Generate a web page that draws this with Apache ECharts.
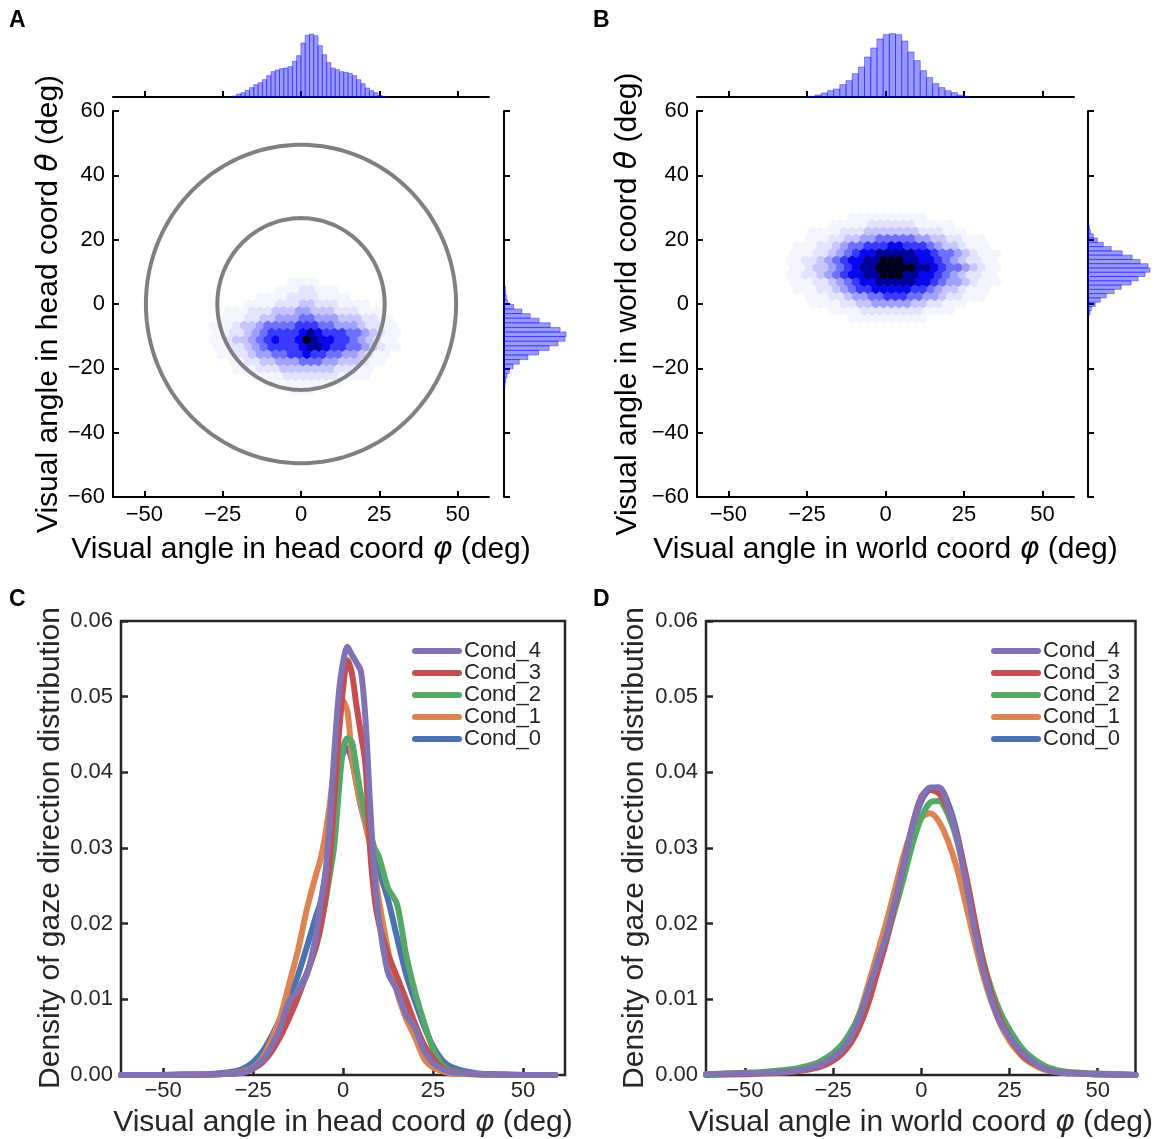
<!DOCTYPE html>
<html><head><meta charset="utf-8">
<script src="https://cdn.jsdelivr.net/npm/echarts@6/dist/echarts.min.js"></script>
<style>html,body{margin:0;padding:0;background:#fff}#c{width:1155px;height:1139px}</style>
</head><body><div id="c"></div>
<script>
// ---------------- DATA ----------------
const tickVals = [-50, -25, 0, 25, 50];

// Panel A rings (center x, center y, radius in deg)
const ringsA = [[0, 0, 26.7], [0, 0, 49.5]];

// Hexbin density levels (0 = empty, 1..9 = light -> dark), rows from top to bottom
const HEX_DX = 2.5, HEX_DY = 2.25;
const hexA_x0 = -27.5, hexA_yTop = 6.75;
const hexA_levels = [
  "000000000011110000000000",
  "000000001112211100000000",
  "000000111122221111000000",
  "000011112223322211110000",
  "001112223334433322211100",
  "011122334445544433322110",
  "111233455556665544432211",
  "112234566667876665543211",
  "112334567667987766543211",
  "112234566667887665543211",
  "011223445566766554432110",
  "001122334445554433321100",
  "000111222333333322211000",
  "000001111222222211110000",
  "000000011111111110000000",
  "000000000011100000000000"
];
const hexB_x0 = -30, hexB_yTop = 27;
const hexB_levels = [
  "000000001111111111000000000",
  "000001111122222211111000000",
  "000111122233333332221110000",
  "001112233445555544332211100",
  "011122345566677666543321110",
  "111223456778888877655432111",
  "112234567788999887765432211",
  "112334567889999988765543211",
  "112234567788999887765432211",
  "111223456778888877654432111",
  "011122345667777766543321110",
  "001112234455666554432211100",
  "000111122334444433221110000",
  "000001111222222221111000000",
  "000000001111111111000000000"
];

// Marginal histograms (bin start, bin width, counts)
const histA_top_start = -21.9, histA_top_width = 1.367;
const histA_top_counts = [3, 9, 13, 20, 28, 37, 43, 52, 64, 76, 81, 85, 87, 91, 107, 124, 162, 185, 189, 184, 154, 127, 103, 87, 82, 76, 74, 71, 64, 52, 40, 27, 19, 13, 5, 2];
const histA_right_start = 5.6, histA_right_width = 1.43; // bins going downward
const histA_right_counts = [4, 5, 7, 11, 29, 54, 79, 106, 139, 169, 187, 184, 163, 136, 104, 72, 46, 27, 16, 9, 5, 3];
const histB_top_start = -24.4, histB_top_width = 1.97;
const histB_top_counts = [2, 6, 12, 19, 24, 37, 49, 70, 90, 120, 147, 174, 187, 190, 187, 168, 135, 109, 79, 58, 40, 28, 19, 13, 6, 2];
const histB_right_start = 24.5, histB_right_width = 1.33; // bins going downward
const histB_right_counts = [4, 7, 16, 28, 46, 70, 103, 133, 157, 181, 187, 172, 151, 130, 100, 79, 55, 37, 22, 10, 6];

// Panel C: KDE in head coords (density x 1e-4)
const kdeC_x = [-61.7, -50, -40, -35, -30, -27.5, -25, -22.5, -20, -17.5, -15, -12.5, -10, -7.5, -6.25, -5, -3.75, -2.5, -1.25, 0, 1.25, 2.5, 3.75, 5, 6.25, 7.5, 8.75, 10, 12.5, 15, 17.5, 20, 22.5, 25, 27.5, 30, 35, 40, 50, 59];
const kdeC_cond0 = [0, 0, 1, 2, 5, 9, 17, 30, 50, 74, 100, 132, 170, 210, 228, 262, 300, 350, 400, 425, 432, 415, 385, 355, 335, 310, 290, 270, 232, 182, 134, 98, 65, 38, 20, 11, 4, 1, 0, 0];
const kdeC_cond1 = [0, 0, 1, 1, 3, 5, 10, 22, 45, 75, 120, 165, 220, 265, 285, 315, 355, 405, 450, 495, 480, 420, 385, 355, 330, 305, 270, 230, 165, 110, 75, 50, 22, 10, 5, 2, 1, 0, 0, 0];
const kdeC_cond2 = [0, 0, 0, 1, 2, 4, 9, 18, 35, 57, 85, 113, 135, 170, 195, 226, 262, 300, 370, 430, 445, 440, 405, 370, 340, 320, 300, 288, 247, 226, 160, 110, 70, 35, 14, 6, 2, 1, 0, 0];
const kdeC_cond3 = [0, 0, 0, 1, 2, 4, 8, 16, 30, 50, 75, 103, 135, 170, 195, 230, 280, 360, 445, 510, 548, 530, 488, 450, 410, 300, 235, 200, 160, 130, 100, 68, 40, 22, 10, 5, 2, 1, 0, 0];
const kdeC_cond4 = [0, 0, 1, 1, 2, 3, 9, 19, 37, 62, 97, 112, 133, 185, 225, 262, 330, 420, 500, 545, 566, 555, 545, 533, 470, 360, 265, 205, 135, 112, 80, 62, 33, 16, 8, 4, 2, 1, 0, 0];

// Panel D: KDE in world coords (density x 1e-4)
const kdeD_x = [-61, -50, -45, -40, -35, -30, -27.5, -25, -22.5, -20, -17.5, -15, -12.5, -10, -7.5, -5, -2.5, 0, 2.5, 5, 7.5, 10, 12.5, 15, 17.5, 20, 22.5, 25, 27.5, 30, 35, 40, 45, 50, 60.7];
const kdeD_cond0 = [1, 2, 3, 4, 6, 11, 16, 23, 33, 50, 75, 110, 146, 182, 228, 275, 326, 362, 378, 380, 360, 322, 262, 198, 142, 100, 71, 50, 34, 22, 9, 4, 2, 1, 0];
const kdeD_cond1 = [1, 2, 3, 4, 6, 11, 16, 24, 36, 55, 82, 120, 160, 200, 245, 290, 325, 340, 346, 335, 310, 275, 228, 178, 132, 95, 66, 45, 30, 19, 7, 3, 2, 1, 0];
const kdeD_cond2 = [1, 3, 4, 6, 9, 15, 21, 29, 40, 57, 80, 112, 145, 178, 218, 260, 305, 340, 360, 362, 345, 312, 262, 205, 152, 112, 82, 60, 42, 28, 12, 5, 3, 2, 0];
const kdeD_cond3 = [0, 1, 2, 3, 5, 9, 13, 19, 28, 42, 64, 95, 135, 175, 225, 278, 330, 368, 377, 372, 352, 318, 268, 208, 150, 105, 72, 50, 33, 21, 8, 3, 2, 1, 0];
const kdeD_cond4 = [1, 2, 3, 4, 6, 11, 16, 23, 33, 50, 75, 112, 148, 183, 230, 278, 330, 365, 380, 380, 355, 316, 258, 195, 140, 98, 68, 50, 35, 23, 8, 3, 2, 1, 0];

const condNames = ['Cond_0', 'Cond_1', 'Cond_2', 'Cond_3', 'Cond_4'];
const condColors = ['#4c72b0', '#dd8452', '#55a868', '#c44e52', '#8172b3'];

// ---------------- BUILD ----------------
const FONT = 'Liberation Sans';
const hexPalette = ['#ffffff', '#f5f5ff', '#e4e4ff', '#c6c6ff', '#a0a0ff', '#7070ff', '#3a3aff', '#0808ee', '#00009a', '#00001c'];
const hexPath = 'path://M0,-1 L0.866,-0.5 L0.866,0.5 L0,1 L-0.866,0.5 L-0.866,-0.5 Z';
const minus = v => String(v).replace('-', '\u2212');

function hexData(levels, x0, yTop) {
  const out = [];
  levels.forEach((row, j) => {
    for (let i = 0; i < row.length; i++) {
      const v = +row[i];
      if (v > 0) out.push([x0 + i * HEX_DX + (j % 2 ? HEX_DX / 4 : -HEX_DX / 4), yTop - j * HEX_DY, v]);
    }
  });
  return out;
}
function histH(start, w, counts) { return counts.map((c, i) => [start + i * w, start + (i + 1) * w, c]); }
function histV(start, w, counts) { return counts.map((c, i) => [start - i * w, start - (i + 1) * w, c]); }
function kde(xs, ys) { return xs.map((x, i) => [x, ys[i] / 10000]); }

const histStyle = { fill: 'rgba(0,0,255,0.4)', stroke: 'rgba(0,0,255,0.4)', lineWidth: 1 };
function renderHistH(params, api) {
  const p0 = api.coord([api.value(0), 0]);
  const p1 = api.coord([api.value(1), api.value(2)]);
  return { type: 'rect', shape: { x: p0[0], y: p1[1], width: p1[0] - p0[0], height: p0[1] - p1[1] }, style: histStyle };
}
function renderHistV(params, api) {
  const p0 = api.coord([0, api.value(0)]);
  const p1 = api.coord([api.value(2), api.value(1)]);
  return { type: 'rect', shape: { x: p0[0], y: p0[1], width: p1[0] - p0[0], height: p1[1] - p0[1] }, style: histStyle };
}
function renderRing(params, api) {
  const cx = api.value(0), cy = api.value(1), r = api.value(2);
  const pts = [];
  for (let k = 0; k <= 180; k++) {
    const t = k / 180 * Math.PI * 2;
    pts.push(api.coord([cx + r * Math.cos(t), cy + r * Math.sin(t)]));
  }
  return { type: 'polyline', shape: { points: pts }, style: { fill: 'none', stroke: '#808080', lineWidth: 4 } };
}

const blk = '#000', dk = '#262626';
const TITLE = 30, TICK = 22;
function titleStyle(col) {
  return { fontSize: TITLE, color: col, fontFamily: FONT, rich: { m: { fontSize: TITLE, color: col, fontStyle: 'italic', fontFamily: 'DejaVu Sans' } } };
}
function mainX(grid, name) {
  return {
    type: 'value', gridIndex: grid, min: -60, max: 60,
    axisLine: { show: true, onZero: false, lineStyle: { color: blk, width: 2 } },
    axisTick: { show: true, inside: true, length: 6, customValues: tickVals, lineStyle: { color: blk, width: 2 } },
    axisLabel: { show: true, customValues: tickVals, formatter: minus, fontSize: TICK, color: blk, fontFamily: FONT, margin: 7 },
    splitLine: { show: false },
    name: name, nameLocation: 'middle', nameGap: 38, nameTextStyle: titleStyle(blk)
  };
}
function mainY(grid, name, gap) {
  return {
    type: 'value', gridIndex: grid, min: -60, max: 60, interval: 20,
    axisLine: { show: true, onZero: false, lineStyle: { color: blk, width: 2 } },
    axisTick: { show: true, inside: true, length: 6, lineStyle: { color: blk, width: 2 } },
    axisLabel: { show: true, formatter: minus, fontSize: TICK, color: blk, fontFamily: FONT, margin: 8 },
    splitLine: { show: false },
    name: name, nameLocation: 'middle', nameGap: gap, nameTextStyle: titleStyle(blk)
  };
}
function margX(grid) {
  return {
    type: 'value', gridIndex: grid, min: -60, max: 60,
    axisLine: { show: true, onZero: false, lineStyle: { color: blk, width: 2 } },
    axisTick: { show: true, inside: true, length: 6, customValues: tickVals, lineStyle: { color: blk, width: 2 } },
    axisLabel: { show: false }, splitLine: { show: false }
  };
}
function margY(grid) {
  return {
    type: 'value', gridIndex: grid, min: -60, max: 60, interval: 20, position: 'left',
    axisLine: { show: true, onZero: false, lineStyle: { color: blk, width: 2 } },
    axisTick: { show: true, inside: true, length: 6, lineStyle: { color: blk, width: 2 } },
    axisLabel: { show: false }, splitLine: { show: false }
  };
}
function hiddenAxis(grid, max) { return { type: 'value', gridIndex: grid, min: 0, max: max, show: false }; }
function kdeX(grid, min, max, name) {
  return {
    type: 'value', gridIndex: grid, min: min, max: max,
    axisLine: { show: false, onZero: false },
    axisTick: { show: true, inside: true, length: 7, customValues: tickVals, lineStyle: { color: dk, width: 2.5 } },
    axisLabel: { show: true, customValues: tickVals, formatter: minus, fontSize: TICK, color: dk, fontFamily: FONT, margin: 5 },
    splitLine: { show: false },
    name: name, nameLocation: 'middle', nameGap: 33, nameTextStyle: titleStyle(dk)
  };
}
function kdeY(grid, gap) {
  return {
    type: 'value', gridIndex: grid, min: 0, max: 0.06, interval: 0.01,
    axisLine: { show: false, onZero: false },
    axisTick: { show: true, inside: true, length: 7, lineStyle: { color: dk, width: 2.5 } },
    axisLabel: { show: true, formatter: v => v.toFixed(2), fontSize: TICK, color: dk, fontFamily: FONT, margin: 8 },
    splitLine: { show: false },
    name: 'Density of gaze direction distribution', nameLocation: 'middle', nameGap: gap,
    nameTextStyle: { fontSize: TITLE, color: dk, fontFamily: FONT }
  };
}

const series = [];
// A
series.push({ type: 'scatter', xAxisIndex: 0, yAxisIndex: 0, data: hexData(hexA_levels, hexA_x0, hexA_yTop), symbol: hexPath, symbolSize: [8.4, 10.3], silent: true, z: 2,
  itemStyle: { opacity: 1, color: p => hexPalette[p.value[2]] } });
series.push({ type: 'custom', xAxisIndex: 0, yAxisIndex: 0, data: ringsA, renderItem: renderRing, silent: true, z: 5, encode: { x: 0, y: 1 } });
series.push({ type: 'custom', xAxisIndex: 1, yAxisIndex: 1, data: histH(histA_top_start, histA_top_width, histA_top_counts), renderItem: renderHistH, silent: true, encode: { x: [0, 1], y: 2 } });
series.push({ type: 'custom', xAxisIndex: 2, yAxisIndex: 2, data: histV(histA_right_start, histA_right_width, histA_right_counts), renderItem: renderHistV, silent: true, encode: { y: [0, 1], x: 2 } });
// B
series.push({ type: 'scatter', xAxisIndex: 3, yAxisIndex: 3, data: hexData(hexB_levels, hexB_x0, hexB_yTop), symbol: hexPath, symbolSize: [8.4, 10.3], silent: true, z: 2,
  itemStyle: { opacity: 1, color: p => hexPalette[p.value[2]] } });
series.push({ type: 'custom', xAxisIndex: 4, yAxisIndex: 4, data: histH(histB_top_start, histB_top_width, histB_top_counts), renderItem: renderHistH, silent: true, encode: { x: [0, 1], y: 2 } });
series.push({ type: 'custom', xAxisIndex: 5, yAxisIndex: 5, data: histV(histB_right_start, histB_right_width, histB_right_counts), renderItem: renderHistV, silent: true, encode: { y: [0, 1], x: 2 } });
// C & D
const kdeC = [kdeC_cond0, kdeC_cond1, kdeC_cond2, kdeC_cond3, kdeC_cond4];
const kdeD = [kdeD_cond0, kdeD_cond1, kdeD_cond2, kdeD_cond3, kdeD_cond4];
[[6, kdeC_x, kdeC], [7, kdeD_x, kdeD]].forEach(([ax, xs, sets]) => {
  sets.forEach((ys, k) => {
    series.push({ type: 'line', name: condNames[k], xAxisIndex: ax, yAxisIndex: ax, data: kde(xs, ys), smooth: 0.3,
      showSymbol: false, symbol: 'none', silent: true, z: 3 + k,
      lineStyle: { color: condColors[k], width: 6, cap: 'round', join: 'round' }, itemStyle: { color: condColors[k] } });
  });
});

const legendIcon = 'path://M3,0 L47,0 A3,3 0 0 1 47,6 L3,6 A3,3 0 0 1 3,0 Z';
function legend(left) {
  return { data: ['Cond_4', 'Cond_3', 'Cond_2', 'Cond_1', 'Cond_0'], orient: 'vertical', left: left, top: 640, padding: 0,
    itemWidth: 50, itemHeight: 6, itemGap: 0, icon: legendIcon, selectedMode: false,
    textStyle: { fontSize: 22, color: dk, fontFamily: FONT, lineHeight: 22, padding: [0, 0, 0, -3] } };
}

const option = {
  animation: false,
  textStyle: { fontFamily: FONT },
  grid: [
    { left: 113, top: 111, width: 376, height: 386 },
    { left: 113, top: 20, width: 376, height: 77 },
    { left: 504, top: 111, width: 70, height: 386 },
    { left: 697, top: 111, width: 377, height: 386 },
    { left: 697, top: 20, width: 377, height: 77 },
    { left: 1088, top: 111, width: 66, height: 386 },
    { left: 121, top: 621, width: 444, height: 455, show: true, borderColor: dk, borderWidth: 2.5, backgroundColor: 'transparent' },
    { left: 706, top: 621, width: 435, height: 455, show: true, borderColor: dk, borderWidth: 2.5, backgroundColor: 'transparent' }
  ],
  xAxis: [
    mainX(0, 'Visual angle in head coord {m|φ} (deg)'),
    margX(1),
    hiddenAxis(2, 211),
    mainX(3, 'Visual angle in world coord {m|φ} (deg)'),
    margX(4),
    hiddenAxis(5, 199),
    kdeX(6, -61.7, 61.7, 'Visual angle in head coord {m|φ} (deg)'),
    kdeX(7, -61, 60.7, 'Visual angle in world coord {m|φ} (deg)')
  ],
  yAxis: [
    mainY(0, 'Visual angle in head coord {m|θ} (deg)', 46),
    hiddenAxis(1, 231),
    margY(2),
    mainY(3, 'Visual angle in world coord {m|θ} (deg)', 54),
    hiddenAxis(4, 231),
    margY(5),
    kdeY(6, 55),
    kdeY(7, 56)
  ],
  legend: [legend(412), legend(991)],
  graphic: [
    { type: 'text', left: 9, top: 9, style: { text: 'A', fontSize: 23, fontWeight: 'bold', fontFamily: FONT, fill: '#000' } },
    { type: 'text', left: 593, top: 9, style: { text: 'B', fontSize: 23, fontWeight: 'bold', fontFamily: FONT, fill: '#000' } },
    { type: 'text', left: 9, top: 588, style: { text: 'C', fontSize: 23, fontWeight: 'bold', fontFamily: FONT, fill: '#000' } },
    { type: 'text', left: 593, top: 588, style: { text: 'D', fontSize: 23, fontWeight: 'bold', fontFamily: FONT, fill: '#000' } }
  ],
  series: series
};
const chart = echarts.init(document.getElementById('c'), null, { renderer: 'canvas' });
chart.setOption(option);
</script></body></html>
